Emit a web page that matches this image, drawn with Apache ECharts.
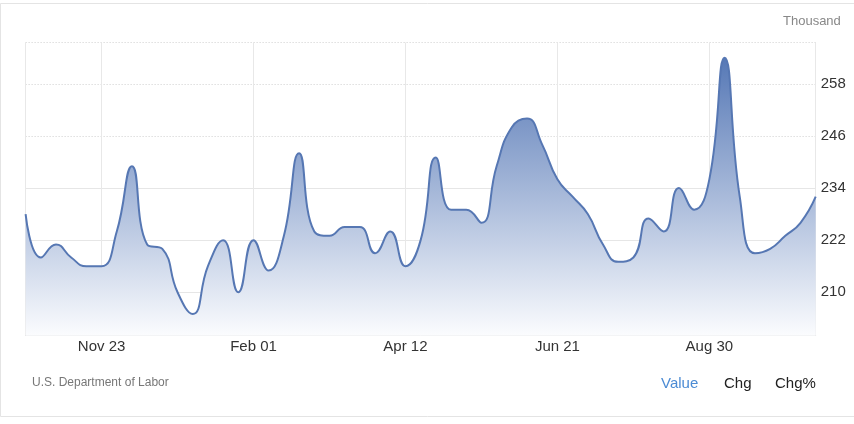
<!DOCTYPE html>
<html>
<head>
<meta charset="utf-8">
<script src="https://cdn.jsdelivr.net/npm/echarts@6/dist/echarts.min.js"></script>
<style>
html,body{margin:0;padding:0;background:#fff;}
#chart{width:854px;height:424px;}
</style>
</head>
<body>
<div id="chart"></div>
<script>
// Weekly dates (week ending)
var dates = ["Oct 19","Oct 26","Nov 02","Nov 09","Nov 16","Nov 23","Nov 30","Dec 07","Dec 14","Dec 21","Dec 28",
  "Jan 04","Jan 11","Jan 18","Jan 25","Feb 01","Feb 08","Feb 15","Feb 22","Mar 01","Mar 08","Mar 15","Mar 22","Mar 29",
  "Apr 05","Apr 12","Apr 19","Apr 26","May 03","May 10","May 17","May 24","May 31","Jun 07","Jun 14","Jun 21","Jun 28",
  "Jul 05","Jul 12","Jul 19","Jul 26","Aug 02","Aug 09","Aug 16","Aug 23","Aug 30","Sep 06","Sep 13","Sep 20","Sep 27",
  "Oct 04","Oct 11","Oct 18"];
// Initial jobless claims, thousand
var values = [228,218,221,218,216,216,224,239,221,220,210,
  205,216,222,210,222,215,223,242,224,223,225,225,219,
  224,216,222,241,229,229,226,239,248,250,244,236,232,
  228,221,217,218,227,224,234,229,236,264,232,219,220,
  223,226,232];
var shownDates = ["Nov 23","Feb 01","Apr 12","Jun 21","Aug 30"];
var yLabelTicks = [210,222,234,246,258];
var ySolidTicks = [210,222,234];
var yDottedTicks = [246,258,267.5];
var yMin = 200, yMax = 267.5;

var FONT = "'Liberation Sans', Arial, sans-serif";
var chart = echarts.init(document.getElementById('chart'), null, {renderer:'canvas'});
var lastIdx = dates.length - 1;
function isGridIdx(i){ return i === 0 || i === lastIdx || shownDates.indexOf(dates[i]) >= 0; }

chart.setOption({
  animation:false,
  backgroundColor:'#ffffff',
  textStyle:{fontFamily:FONT},
  grid:{left:25.6, right:38.3, top:42.5, bottom:88.3, containLabel:false},
  xAxis:{
    type:'category', data:dates, boundaryGap:false,
    axisLine:{show:true, lineStyle:{color:'#dcdcdc', width:1}},
    axisTick:{show:false},
    axisLabel:{interval:function(i,v){return shownDates.indexOf(v)>=0;}, color:'#333', fontSize:15, margin:4, fontFamily:FONT},
    splitLine:{show:true, interval:function(i){return isGridIdx(i);}, lineStyle:{color:'#e8e8e8', width:1}}
  },
  yAxis:[
    {type:'value', position:'right', min:yMin, max:yMax,
     axisLine:{show:false},
     axisTick:{show:false, customValues:ySolidTicks},
     axisLabel:{customValues:yLabelTicks, color:'#333', fontSize:15, margin:5, fontFamily:FONT},
     splitLine:{show:true, lineStyle:{color:'#e6e6e6', width:1}}},
    {type:'value', position:'right', min:yMin, max:yMax,
     axisLine:{show:false},
     axisTick:{show:false, customValues:yDottedTicks},
     axisLabel:{show:false},
     splitLine:{show:true, lineStyle:{color:'#cfcfcf', width:1, type:[1,2]}}}
  ],
  series:[{
    type:'line', data:values, yAxisIndex:0, smooth:0.5, symbol:'none',
    lineStyle:{color:'#5677b3', width:2},
    areaStyle:{color:new echarts.graphic.LinearGradient(0,42.5,0,335.7,[
      {offset:0, color:'#4d71b2'},
      {offset:1, color:'#fbfcfe'}
    ], true), opacity:1}
  }],
  graphic:[
    {type:'rect', shape:{x:0.5, y:3.5, width:900, height:413}, style:{fill:'none', stroke:'#e4e4e4', lineWidth:1}, silent:true},
    {type:'text', left:783, top:15, style:{text:'Thousand', fill:'#888', fontSize:13, fontFamily:FONT}},
    {type:'text', left:32, top:377, style:{text:'U.S. Department of Labor', fill:'#777', fontSize:12, fontFamily:FONT}},
    {type:'text', left:661, top:376, style:{text:'Value', fill:'#4b8bd4', fontSize:15, fontFamily:FONT}},
    {type:'text', left:724, top:376, style:{text:'Chg', fill:'#222', fontSize:15, fontFamily:FONT}},
    {type:'text', left:775, top:376, style:{text:'Chg%', fill:'#222', fontSize:15, fontFamily:FONT}}
  ]
});
</script>
</body>
</html>
